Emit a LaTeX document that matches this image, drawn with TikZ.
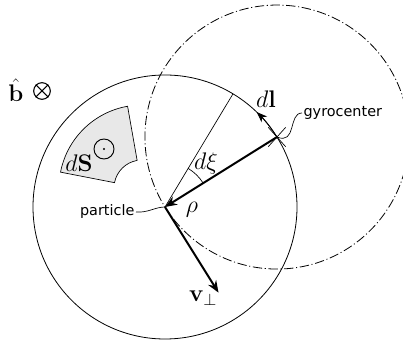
\documentclass[tikz,border=0pt]{standalone}
\usepackage{fix-cm}
\usepackage{amsmath, amssymb}
\usepackage[no-math]{fontspec}
\setmainfont{DejaVu Sans}
\usepackage{tikz}
\usetikzlibrary{arrows.meta, positioning, calc}

\begin{document}
\begin{tikzpicture}[
    x=0.75pt, y=0.75pt,
    orbit/.style={line width=0.6pt},
    guide/.style={line width=0.6pt, dash pattern=on 7pt off 2pt on 0.8pt off 2pt},
    vec/.style={line width=1.5pt, -{Stealth[length=9pt, width=7pt, inset=3pt]}},
    thin/.style={line width=0.5pt},
    lbl/.style={font=\fontsize{10.8}{12}\selectfont, inner sep=1pt},
    sym/.style={font=\fontsize{18}{20}\selectfont, inner sep=0pt}
  ]
    \useasboundingbox (0,0) rectangle (403,345);
    \coordinate (P) at (165,138);
    \coordinate (G) at ($(P)+(32:132)$);
    \coordinate (E) at ($(P)+(59:132)$);
    \coordinate (V) at ($(P)+(-58:101)$);
    \coordinate (C) at (142,157);

    % orbits
    \draw[orbit] (P) circle[radius=132];
    \draw[guide] (G) circle[radius=132];

    % surface element
    \draw[thin, fill=gray!18] ($(C)+(100:83)$) arc[start angle=100, end angle=169, radius=83]
      -- ($(C)+(169:28)$) arc[start angle=169, end angle=100, radius=28] -- cycle;
    \node[draw, circle, line width=0.7pt, minimum size=15pt, inner sep=0pt] (dot) at (104,196) {};
    \fill (dot.center) circle[radius=1.2];
    \node[sym] (dS) at (79,182) {$d\mathbf{S}$};

    % field direction
    \node[sym] (bhat) at (16,255) {$\hat{\mathbf{b}}$};
    \node[draw, circle, line width=0.8pt, minimum size=12.5pt, inner sep=0pt] (bx) at (42,254) {};
    \draw[line width=0.8pt] (bx.north west) -- (bx.south east) (bx.north east) -- (bx.south west);

    % angle element
    \draw[thin] (P) -- (E);
    \draw[thin] ($(P)+(32:45)$) arc[start angle=32, end angle=59, radius=45];
    \node[sym] (dxi) at (206,181) {$d\xi$};

    % line element
    \draw[orbit, -{Stealth[length=8pt, width=6pt, inset=2.5pt]}] (G) arc[start angle=32, end angle=46, radius=132];
    \node[sym] (dl) at (266,246) {$d\mathbf{l}$};

    % gyroradius and velocity
    \draw[vec] (G) -- (P);
    \node[sym] (rho) at (192,135) {$\rho$};
    \draw[vec] (P) -- (V);
    \node[sym] (vperp) at (203,47) {$\mathbf{v}_\perp$};

    % gyrocenter marker
    \draw[thin] ($(G)+(48:13)$) -- ($(G)+(228:13)$);
    \draw[thin] ($(G)+(-48:13)$) -- ($(G)+(132:13)$);

    % labels
    \node[lbl, anchor=east] (plab) at (136,133) {particle};
    \draw[thin] (plab.east) .. controls +(12,-1) and +(-10,0) .. (P);
    \node[lbl, anchor=west] (glab) at (302,232) {gyrocenter};
    \draw[thin] (G) .. controls +(20,-8) and +(-14,0) .. (glab.west);
  \end{tikzpicture}
\end{document}
